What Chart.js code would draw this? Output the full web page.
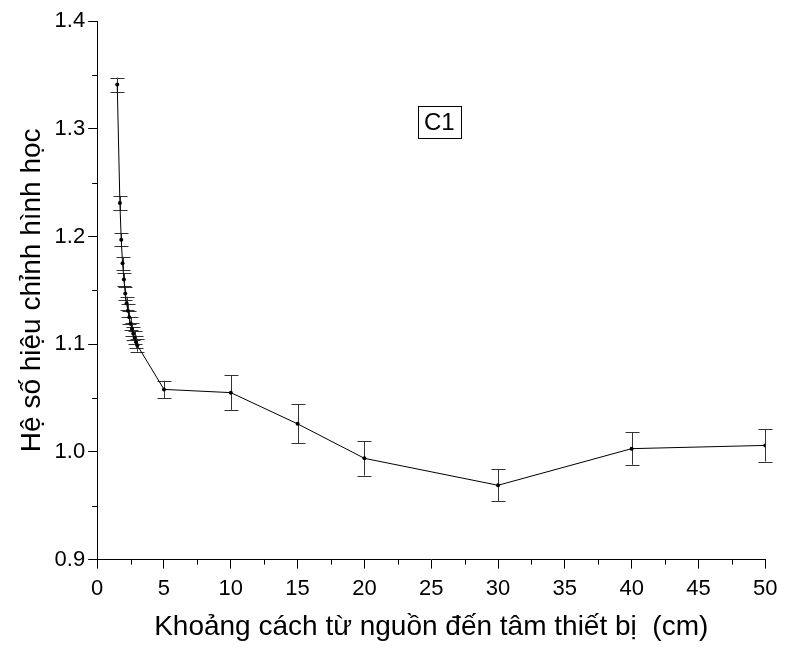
<!DOCTYPE html>
<html>
<head>
<meta charset="utf-8">
<script src="https://cdn.jsdelivr.net/npm/chart.js@4.4.0/dist/chart.umd.min.js"></script>
<style>
  html, body { margin: 0; padding: 0; background: #fff; }
  #wrap { width: 785px; height: 649px; }
</style>
</head>
<body>
<div id="wrap"><canvas id="myChart" width="785" height="649"></canvas></div>
<script>
// Source-to-detector distance (cm)
const distances = [1.5, 1.7, 1.8, 1.9, 2.0, 2.1, 2.2, 2.3, 2.4, 2.5, 2.6, 2.7, 2.8, 2.9, 3.0, 5, 10, 15, 20, 30, 40, 50];
// Geometry correction factor
const factors = [1.341, 1.231, 1.197, 1.175, 1.160, 1.147, 1.138, 1.131, 1.125, 1.119, 1.114, 1.110, 1.106, 1.102, 1.099,
                 1.058, 1.055, 1.026, 0.994, 0.969, 1.003, 1.006];
// Error bar half heights
const errors = [0.0065, 0.0065, 0.006, 0.006, 0.006, 0.006, 0.006, 0.006, 0.006, 0.006, 0.006, 0.006, 0.006, 0.006, 0.006,
                0.008, 0.016, 0.018, 0.016, 0.015, 0.015, 0.015];

const chartLabel = "C1";
const xTitle = "Khoảng cách từ nguồn đến tâm thiết bị  (cm)";
const yTitle = "Hệ số hiệu chỉnh hình học";

const fontFamily = "'Liberation Sans', Arial, sans-serif";

// Draws error bars, minor ticks and the C1 label box
const extrasPlugin = {
    id: "extras",
    beforeDatasetsDraw(chart) {
        const ctx = chart.ctx;
        const xs = chart.scales.x, ys = chart.scales.y;
        ctx.save();
        ctx.strokeStyle = "#333";
        ctx.lineWidth = 1;
        distances.forEach((d, i) => {
            const px = Math.round(xs.getPixelForValue(d)) + 0.5;
            const top = ys.getPixelForValue(factors[i] + errors[i]);
            const bot = ys.getPixelForValue(factors[i] - errors[i]);
            ctx.beginPath();
            ctx.moveTo(px, top); ctx.lineTo(px, bot);
            ctx.moveTo(px - 7, Math.round(top) + 0.5); ctx.lineTo(px + 7, Math.round(top) + 0.5);
            ctx.moveTo(px - 7, Math.round(bot) + 0.5); ctx.lineTo(px + 7, Math.round(bot) + 0.5);
            ctx.stroke();
        });
        ctx.restore();
    },
    afterDraw(chart) {
        const ctx = chart.ctx;
        const xs = chart.scales.x, ys = chart.scales.y;
        const area = chart.chartArea;
        ctx.save();
        ctx.strokeStyle = "#000";
        ctx.lineWidth = 1;
        ctx.beginPath();
        // minor ticks on x
        for (let v = 2.5; v < 50; v += 5) {
            const px = Math.round(xs.getPixelForValue(v)) + 0.5;
            ctx.moveTo(px, area.bottom); ctx.lineTo(px, area.bottom + 5);
        }
        // minor ticks on y
        for (let v = 0.95; v < 1.4; v += 0.1) {
            const py = Math.round(ys.getPixelForValue(v)) + 0.5;
            ctx.moveTo(area.left, py); ctx.lineTo(area.left - 5, py);
        }
        ctx.stroke();

        // C1 label box
        const cx = xs.getPixelForValue(25.6);
        const cy = ys.getPixelForValue(1.306);
        ctx.font = "24px " + fontFamily;
        ctx.fillStyle = "#000";
        ctx.textAlign = "center";
        ctx.textBaseline = "middle";
        ctx.fillText(chartLabel, cx, cy + 1);
        const w = ctx.measureText(chartLabel).width + 12;
        ctx.strokeRect(Math.round(cx - w / 2) + 0.5, Math.round(cy - 16) + 0.5, Math.round(w), 32);
        ctx.restore();
    }
};

const config = {
    type: "scatter",
    data: {
        datasets: [{
            data: distances.map((d, i) => ({ x: d, y: factors[i] })),
            showLine: true,
            borderColor: "#000",
            borderWidth: 1,
            backgroundColor: "#000",
            pointRadius: 2,
            pointBorderWidth: 0,
            tension: 0
        }]
    },
    options: {
        responsive: false,
        animation: false,
        layout: { padding: { top: 21, right: 9, bottom: 8, left: 10 } },
        plugins: {
            legend: { display: false },
            tooltip: { enabled: false }
        },
        scales: {
            x: {
                type: "linear",
                min: 0, max: 50,
                border: { color: "#000", width: 1 },
                grid: { drawOnChartArea: false, drawTicks: true, tickLength: 9, color: "#000" },
                ticks: { stepSize: 5, color: "#000", padding: 7.5, font: { family: fontFamily, size: 22 } },
                title: { display: true, text: xTitle, color: "#000", padding: { top: 3, bottom: 0 }, font: { family: fontFamily, size: 28, lineHeight: 1 } }
            },
            y: {
                type: "linear",
                min: 0.9, max: 1.4,
                border: { color: "#000", width: 1 },
                grid: { drawOnChartArea: false, drawTicks: true, tickLength: 9, color: "#000" },
                ticks: {
                    stepSize: 0.1, color: "#000", padding: 3,
                    font: { family: fontFamily, size: 22 },
                    callback: v => v.toFixed(1)
                },
                title: { display: true, text: yTitle, color: "#000", padding: { top: 5, bottom: 3 }, font: { family: fontFamily, size: 28 } }
            }
        }
    },
    plugins: [extrasPlugin]
};

const myChart = new Chart(document.getElementById("myChart"), config);
</script>
</body>
</html>
